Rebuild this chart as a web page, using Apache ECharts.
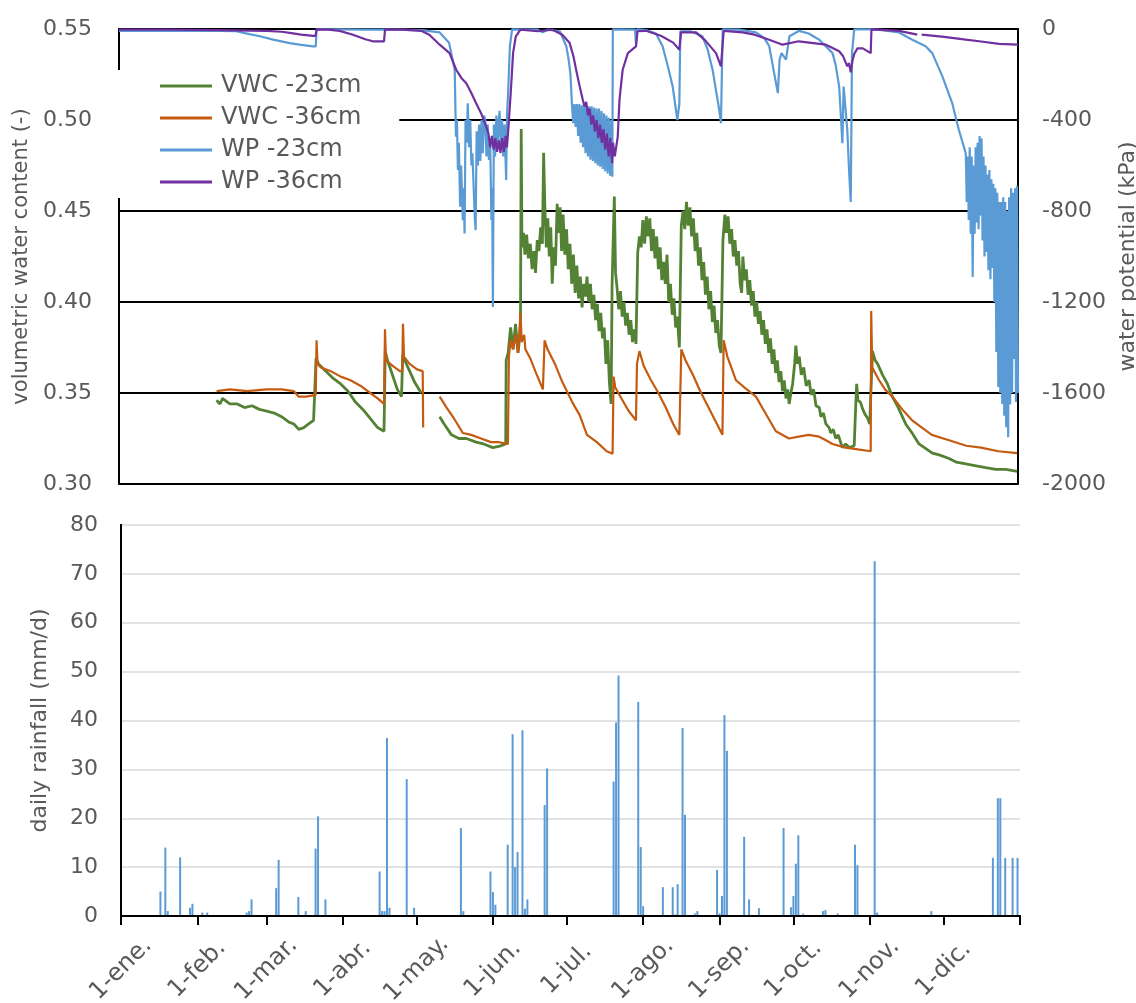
<!DOCTYPE html>
<html><head><meta charset="utf-8">
<script src="https://cdn.jsdelivr.net/npm/echarts@6/dist/echarts.min.js"></script>
<style>html,body{margin:0;padding:0;background:#fff}#c{width:1136px;height:1003px}</style>
</head><body><div id="c"></div>
<script>
// day of year (0 = 1 January)
const monthStarts=[0,31,59,90,120,151,181,212,243,273,304,334,365];
const monthLabels=['1-ene.','1-feb.','1-mar.','1-abr.','1-may.','1-jun.','1-jul.','1-ago.','1-sep.','1-oct.','1-nov.','1-dic.'];
const seriesNames=['VWC -23cm','VWC -36cm','WP -23cm','WP -36cm'];

// volumetric water content at -23 cm [day, value]
const vwc23=[[39.6,.346],[41,.344],[42,.347],[45,.344],[48,.344],[51,.342],[54,.343],[57,.341],[60,.340],[63,.339],[66,.337],[69,.334],[71,.333],[73,.330],[75,.331],[77,.333],[79,.335],[79.8,.336],[80,.369],[81,.366],[84,.362],[87,.358],[90,.355],[93,.351],[96,.345],[99,.341],[102,.336],[105,.331],[107.6,.329],[108.1,.373],[109,.368],[111,.360],[113,.352],[114.7,.348],[115.2,.371],[116,.368],[118,.362],[120,.356],[122.7,.350],null,
[130.2,.337],[132,.333],[135,.327],[138,.325],[141,.325],[145,.323],[148,.322],[151.8,.320],[155,.321],[157,.322],[157.2,.368],[158,.372],[159,.386],[160,.374],[161,.388],[162,.372],[163,.384],[163.3,.495],[163.6,.430],
[164.2,.438],[164.8,.426],[165.5,.437],[166.2,.424],[167,.432],[167.7,.418],[168.4,.428],[169.1,.416],[169.8,.434],[170.5,.428],[171.2,.441],[171.9,.432],[172.4,.482],[172.9,.452],[173.5,.430],[174.1,.446],[174.7,.425],[175.3,.441],[175.9,.410],[176.5,.430],[177.2,.420],[177.9,.454],[178.5,.438],[179.1,.452],[179.7,.428],[180.3,.448],[181,.426],[181.7,.440],[182.4,.418],[183.1,.432],[183.8,.410],[184.5,.426],[185.2,.405],[185.9,.420],[186.6,.402],[187.3,.414],[188,.397],[188.7,.410],[189.4,.403],[190,.414],[190.7,.400],[191.4,.410],[192.1,.396],[192.8,.404],[193.5,.390],[194.2,.399],[194.9,.384],[195.6,.394],[196.3,.380],[197,.386],[197.7,.366],[198.4,.379],[199.1,.356],[199.8,.344],
[200.2,.410],[201.1,.458],[201.6,.416],[202.2,.408],[202.9,.396],[203.6,.406],[204.3,.392],[205,.400],[205.7,.387],[206.4,.394],[207.1,.382],[207.8,.390],[208.5,.378],[209.2,.385],[209.9,.377],
[210.6,.427],[211.3,.436],[212,.430],[212.7,.445],[213.4,.432],[214.1,.447],[214.8,.436],[215.5,.446],[216.2,.428],[216.9,.440],[217.6,.424],[218.3,.436],[219,.418],[219.7,.430],[220.4,.412],[221.1,.422],[221.8,.410],[222.5,.426],[223.2,.400],[223.9,.410],[224.6,.393],[225.3,.402],[226,.386],[226.7,.392],[227.5,.375],
[228.3,.442],[229,.450],[229.7,.440],[230.4,.455],[231.1,.442],[231.8,.452],[232.5,.436],[233.2,.446],[233.9,.428],[234.6,.438],[235.3,.420],[236,.430],[236.7,.412],[237.4,.422],[238.1,.404],[238.8,.414],[239.5,.396],[240.2,.406],[240.9,.389],[241.6,.398],[242.3,.383],[243,.390],[243.7,.376],[244.4,.372],
[245.2,.434],[246,.448],[246.6,.438],[247.3,.447],[248,.432],[248.7,.440],[249.4,.425],[250.1,.434],[250.8,.420],[251.5,.428],[252.2,.410],[252.8,.405],[253.3,.425],[254,.412],[254.7,.418],[255.4,.404],[256.1,.412],[256.8,.398],[257.5,.406],[258.2,.392],[258.9,.400],[259.6,.388],[260.3,.395],[261,.382],[261.7,.390],[262.4,.377],[263.1,.385],[263.8,.372],[264.5,.380],[265.2,.366],[265.9,.374],[266.6,.361],[267.3,.368],[268,.356],[268.7,.362],[269.4,.351],[270.1,.357],[270.8,.347],[271.5,.352],[272.1,.344],[272.8,.350],[273.5,.355],[274.3,.366],[274.8,.376],[275.5,.366],[276.2,.370],[277,.360],[278,.364],[279,.354],[280.2,.357],[281,.349],[282,.352],[283,.343],[284.3,.342],[285,.337],[286,.339],[287,.333],[288.3,.331],[289,.328],[290,.330],[291,.325],[292,.327],[293.7,.320],[295,.322],[296.5,.320],[298.5,.321],[299,.339],[299.5,.355],[300,.346],[301,.345],[302,.341],[303,.338],[304,.336],[304.8,.333],
[305.9,.373],[307,.368],[308,.366],[310,.360],[312,.355],[314,.348],[316,.343],[319.4,.333],[322,.328],[324.8,.322],[327,.320],[330.2,.317],[333,.316],[337,.314],[340,.312],[343.8,.311],[348,.310],[351.9,.309],[356,.308],[360,.308],[364.7,.307]];

// volumetric water content at -36 cm
const vwc36=[[39.6,.351],[45,.352],[52,.351],[60,.352],[66,.352],[71,.351],[73,.348],[76,.348],[79.9,.349],[80.2,.379],[80.6,.366],[82,.364],[86,.362],[90,.359],[94,.357],[98,.354],[102,.350],[105,.347],[107.6,.344],[108,.385],[108.4,.368],[111,.365],[114,.362],[115,.362],[115.3,.388],[115.7,.370],[118,.366],[121,.363],[123.3,.362],[123.5,.331],null,
[130.2,.348],[133,.342],[136,.336],[139.6,.328],[143,.327],[147,.325],[151,.323],[154,.323],[157.9,.322],[158.3,.370],[159,.379],[160,.374],[161,.382],[162,.372],[163,.394],[163.5,.378],[164.5,.382],[165,.374],[167,.369],[169,.362],[172.1,.352],[172.8,.379],[174,.374],[177,.366],[180,.356],[184,.345],[187,.338],[190,.327],[194,.323],[198,.318],[200.4,.3166],[200.8,.359],[201.5,.353],[204,.347],[207,.340],[209.9,.335],[210.3,.366],[211.3,.373],[213,.365],[216,.357],[219,.350],[222,.342],[225,.333],[227.5,.327],[228.3,.374],[230,.368],[233,.360],[236,.351],[239,.343],[242,.335],[245,.327],[245.5,.379],[247,.370],[250.5,.357],[254,.353],[258.6,.348],[262,.340],[266.7,.329],[272,.325],[276,.326],[280,.327],[284.3,.326],[287,.324],[289.7,.322],[295,.320],[300,.319],[305.2,.318],[305.4,.395],[305.8,.364],[308.6,.357],[311,.352],[314,.348],[318,.341],[322,.335],[326,.331],[330,.327],[337,.324],[344,.321],[350,.320],[357,.318],[364.7,.317]];

// water potential at -23 cm (kPa)
const wp23=[[0,-8],[20,-8],[40,-8],[47.7,-10],[52,-20],[57.2,-32],[63,-48],[69.3,-62],[74,-70],[78.8,-76],[79.9,-76],[80.2,-2],[90,-2],[100,-3],[110,-3],[122.7,-5],[130.2,-15],[134,-60],[136.3,-179],[136.8,-473],[137.2,-400],[137.6,-620],[138,-500],[138.5,-781],[138.9,-600],[139.6,-840],[140,-700],[140.3,-899],[140.7,-400],[141.2,-500],[141.6,-326],[142.1,-520],[142.6,-400],[143.1,-600],[143.5,-546],[144,-700],[144.5,-840],[144.8,-884],[145.2,-450],[145.7,-600],[146.2,-420],[146.7,-580],[147.2,-400],[147.7,-546],[148.2,-380],[148.7,-400],[149.2,-560],[149.7,-420],[150.2,-576],[150.7,-480],[151.2,-840],[151.5,-700],[151.8,-1222],[152.2,-420],[152.7,-560],[153.2,-380],[153.7,-520],[154.2,-400],[154.5,-360],[155,-520],[155.5,-400],[156,-560],[156.5,-420],[157.2,-664],[157.5,-380],[158,-280],[158.7,-76],[159.6,-2],[170,-3],[172,-15],[174,-3],[179,-10],
[181.6,-76],[182.5,-130],[183.3,-200],[183.9,-330],[184.4,-414],[184.9,-330],[185.4,-430],[185.9,-330],[186.4,-470],[186.9,-330],[187.4,-500],[187.9,-335],[188.4,-520],[188.9,-330],[189.4,-546],[189.9,-335],[190.4,-560],[190.9,-340],[191.4,-575],[191.9,-340],[192.4,-580],[192.9,-345],[193.4,-590],[193.9,-350],[194.4,-600],[194.9,-350],[195.4,-605],[195.9,-360],[196.4,-615],[196.9,-370],[197.4,-625],[197.9,-380],[198.4,-635],[198.9,-390],[199.4,-645],[199.9,-400],[200.3,-649],[200.5,-2],
[209.5,-3],[209.9,-69],[210.3,-2],[214,-5],[218,-20],[220.7,-76],[223,-170],[224.8,-253],[226.7,-400],[227.5,-330],[227.9,-10],[232,-10],[236.9,-32],[239,-90],[241,-179],[243.7,-355],[244.4,-414],[245.1,-2],[251.8,-3],[258.6,-15],[262,-40],[264,-76],[266,-194],[267.5,-282],[268.2,-135],[269,-106],[270.8,-135],[271.5,-135],[272.2,-32],[276.2,-8],[280,-20],[284.3,-47],[289.7,-106],[291,-160],[292.4,-253],[293.7,-502],[294.2,-253],[295.7,-444],[296.4,-620],[297.1,-760],[297.6,-106],[298.5,-2],[304.6,-2],[310,-5],[316.7,-15],[322.1,-47],[327.5,-76],[330.2,-106],[334.3,-208],[338.3,-326],[341,-444],[343.8,-546],
[344.2,-760],[344.6,-560],[345,-840],[345.4,-520],[345.8,-900],[346.2,-560],[346.6,-1090],[347,-600],[347.4,-900],[347.8,-520],[348.2,-850],[348.6,-500],[349,-880],[349.4,-470],[349.8,-820],[350.2,-480],[350.6,-930],[351,-560],[351.4,-1000],[351.8,-600],[352.2,-980],[352.6,-640],[353,-1060],[353.4,-620],[353.8,-1100],[354.2,-660],[354.6,-1050],[355,-680],[355.4,-1200],[355.8,-700],[356.2,-1420],[356.6,-720],[357,-1574],[357.4,-760],[357.8,-1600],[358.2,-760],[358.6,-1648],[359,-740],[359.4,-1700],[359.8,-760],[360.2,-1750],[360.6,-800],[361,-1795],[361.4,-740],[361.8,-1650],[362.2,-700],[362.6,-1600],[363,-720],[363.4,-1450],[363.8,-700],[364.2,-1640],[364.6,-690],[365,-1600]];

// water potential at -36 cm (kPa)
const wp36=[[0,-3],[20,-3],[40,-5],[60,-8],[66,-12],[70,-18],[74,-25],[78.8,-30],[79.8,-30],[80.2,-2],[85,-3],[89.6,-8],[95,-25],[100,-45],[103,-54],[107.6,-54],[108,-3],[115,-3],[122.7,-8],[126,-25],[130.2,-69],[134.2,-106],[136.9,-179],[139,-215],[141,-238],[143,-280],[145,-326],[147,-370],[149.1,-429],[150,-460],[150.7,-520],[151.4,-470],[152.1,-530],[152.8,-480],[153.5,-540],[154.2,-490],[154.9,-545],[155.6,-480],[156.3,-540],[157,-470],[157.5,-520],[158.2,-420],[159.2,-253],[160,-106],[161.1,-32],[163,-3],[170,-10],[176,-3],[180,-25],[182.9,-60],[184.5,-120],[185.6,-179],[187,-250],[188.3,-311],[189,-340],[189.7,-320],[190.4,-380],[191.1,-350],[191.8,-420],[192.5,-380],[193.2,-450],[193.9,-400],[194.6,-480],[195.3,-420],[196,-500],[196.7,-440],[197.4,-530],[198.1,-460],[198.8,-560],[199.5,-480],[200.2,-590],[200.6,-500],[201.3,-560],[202.5,-473],[203.2,-311],[204.5,-179],[206.6,-106],[209.9,-76],[210.5,-10],[214,-8],[220,-30],[225,-60],[227.5,-91],[228.2,-15],[234.3,-15],[238,-50],[242.4,-106],[244.4,-164],[245.5,-8],[253.2,-15],[258,-25],[264,-47],[269.4,-69],[276,-54],[287,-69],[292.4,-98],[294,-120],[295.7,-164],[296.4,-150],[297.1,-190],[297.8,-140],[298.5,-110],[299.8,-85],[302,-85],[305.2,-106],[305.5,-2],[316.7,-8],[324.1,-25],null,[325.9,-25],[335,-35],[343.8,-47],[350,-55],[357.3,-65],[365,-69]];

// daily rainfall (mm/d)
const rainDays=[16,18,19,24,28,29,33,35,51,52,53,63,64,72,75,79,80,83,105,106,107,108,109,116,119,138,139,150,151,152,157,159,160,161,163,164,165,172,173,200,201,202,210,211,212,220,224,225,226,228,229,233,234,242,243,244,245,246,253,255,259,269,272,273,274,275,277,285,286,291,298,299,306,307,329,354,356,357,359,362,364];
const rainMm=[5,14,1,12,1.7,2.5,0.7,0.7,0.7,1,3.4,5.7,11.5,3.9,1,13.8,20.4,3.4,9.1,1,1,36.4,1.7,28,1.7,18,1,9.1,4.9,2.3,14.6,37.2,10,13.1,38,1.5,3.4,22.7,30.2,27.5,39.6,49.2,43.8,14.1,2,5.9,5.9,0.3,6.5,38.5,20.7,0.5,1,9.4,0.5,4.1,41.1,33.8,16.2,3.4,1.6,18,1.8,4.1,10.7,16.5,0.5,1,1.2,0.5,14.6,10.4,72.6,0.7,1,11.9,24.1,24.1,11.9,11.9,11.9];

const FONT='DejaVu Sans', GREY='#595959';
const prep=a=>a.map(p=>p===null?['-','-']:p);
const blackLine={show:true,lineStyle:{color:'#000',width:2}};

const chart=echarts.init(document.getElementById('c'),null,{renderer:'canvas'});
chart.setOption({
  animation:false,
  backgroundColor:'#fff',
  textStyle:{fontFamily:FONT},
  grid:[
    {left:119,right:118,top:29,height:455,containLabel:false,outerBoundsMode:'none'},
    {left:121,right:116,top:525,height:391,containLabel:false,outerBoundsMode:'none'}
  ],
  legend:{
    data:seriesNames,left:116,top:70,orient:'vertical',backgroundColor:'#fff',
    padding:[4,38,4,44],itemGap:8,itemWidth:52,itemHeight:3,icon:'rect',
    textStyle:{color:GREY,fontSize:24,fontFamily:FONT,lineHeight:24,padding:[0,0,0,4]}
  },
  xAxis:[
    {gridIndex:0,type:'value',min:0,max:365,axisLine:blackLine,axisTick:{show:false},axisLabel:{show:false},splitLine:{show:false}},
    {gridIndex:1,type:'value',min:0,max:365,position:'bottom',z:5,axisLine:blackLine,
     axisTick:{show:true,customValues:monthStarts,length:9,lineStyle:{color:'#000',width:2}},
     axisLabel:{customValues:monthStarts.slice(0,12),formatter:v=>monthLabels[monthStarts.indexOf(v)],
       rotate:45,align:'center',verticalAlign:'middle',margin:53,color:GREY,fontSize:24,fontFamily:FONT},
     splitLine:{show:false}},
    {gridIndex:1,type:'value',min:0,max:365,position:'top',z:5,axisLine:blackLine,axisTick:{show:false},axisLabel:{show:false},splitLine:{show:false}}
  ],
  yAxis:[
    {gridIndex:0,type:'value',min:0.30,max:0.55,interval:0.05,axisLine:blackLine,axisTick:{show:false},
     axisLabel:{formatter:v=>v.toFixed(2),color:GREY,fontSize:22,fontFamily:FONT,margin:27},
     splitLine:{show:true,lineStyle:{color:'#000',width:2}},
     name:'volumetric water content (-)',nameLocation:'middle',nameRotate:90,nameGap:71,
     nameTextStyle:{color:GREY,fontSize:21,fontFamily:FONT}},
    {gridIndex:0,type:'value',position:'right',min:-2000,max:0,interval:400,axisLine:blackLine,axisTick:{show:false},
     axisLabel:{formatter:v=>String(v),color:GREY,fontSize:22,fontFamily:FONT,margin:24},splitLine:{show:false},
     name:'water potential (kPa)',nameLocation:'middle',nameRotate:90,nameGap:93,
     nameTextStyle:{color:GREY,fontSize:22,fontFamily:FONT,verticalAlign:'top'}},
    {gridIndex:1,type:'value',min:0,max:80,interval:10,axisLine:blackLine,axisTick:{show:false},
     axisLabel:{color:GREY,fontSize:22,fontFamily:FONT,margin:23},
     splitLine:{show:true,lineStyle:{color:'#d9d9d9',width:1.5}},
     name:'daily rainfall (mm/d)',nameLocation:'middle',nameRotate:90,nameGap:70,
     nameTextStyle:{color:GREY,fontSize:22,fontFamily:FONT}},
    {gridIndex:1,type:'value',position:'right',min:0,max:80,z:5,axisLine:blackLine,axisTick:{show:false},axisLabel:{show:false},splitLine:{show:false}}
  ],
  series:[
    {name:seriesNames[0],type:'line',xAxisIndex:0,yAxisIndex:0,data:prep(vwc23),symbol:'none',connectNulls:false,color:'#548235',lineStyle:{width:2.8,color:'#548235'}},
    {name:seriesNames[1],type:'line',xAxisIndex:0,yAxisIndex:0,data:prep(vwc36),symbol:'none',connectNulls:false,color:'#C55A11',lineStyle:{width:2.2,color:'#C55A11'}},
    {name:seriesNames[2],type:'line',xAxisIndex:0,yAxisIndex:1,data:prep(wp23),symbol:'none',connectNulls:false,color:'#5B9BD5',lineStyle:{width:2.2,color:'#5B9BD5'}},
    {name:seriesNames[3],type:'line',xAxisIndex:0,yAxisIndex:1,data:prep(wp36),symbol:'none',connectNulls:false,color:'#7030A0',lineStyle:{width:2.2,color:'#7030A0'}},
    {name:'rain',type:'bar',xAxisIndex:1,yAxisIndex:2,data:rainDays.map((d,i)=>[d,rainMm[i]]),barWidth:2,itemStyle:{color:'#5B9BD5'}}
  ]
});
</script></body></html>
